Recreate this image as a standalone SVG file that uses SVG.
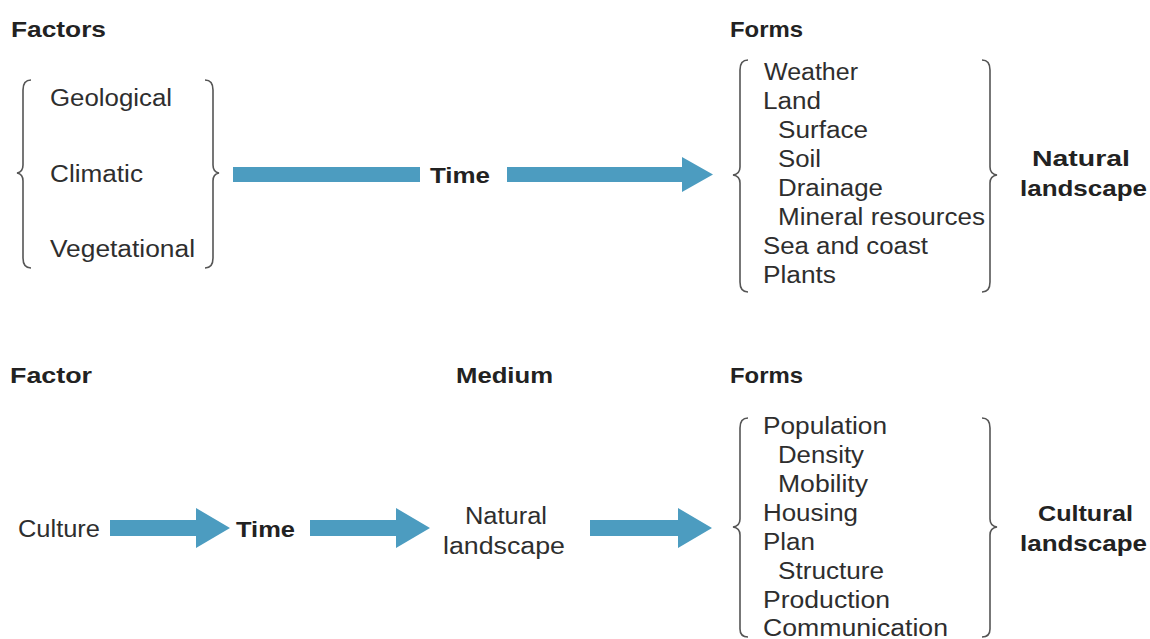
<svg xmlns="http://www.w3.org/2000/svg" width="1150" height="639" viewBox="0 0 1150 639">
<style>
text{font-family:"Liberation Sans",Arial,sans-serif;fill:#2e2e2e;font-size:23px}
.b{font-weight:bold;fill:#222;font-size:22px}
.br{fill:none;stroke:#555;stroke-width:1.6}
.ar{fill:#4c9cc0}
</style>
<rect width="1150" height="639" fill="#fff"/>
<g id="headers">
<text class="b" x="11" y="37" textLength="95" lengthAdjust="spacingAndGlyphs">Factors</text>
<text class="b" x="730" y="37" textLength="73" lengthAdjust="spacingAndGlyphs">Forms</text>
<text class="b" x="10" y="383" textLength="82" lengthAdjust="spacingAndGlyphs">Factor</text>
<text class="b" x="456" y="383" textLength="97" lengthAdjust="spacingAndGlyphs">Medium</text>
<text class="b" x="730" y="383" textLength="73" lengthAdjust="spacingAndGlyphs">Forms</text>
</g>
<g id="factors">
<path class="br" d="M31,80 Q23,80 23,90 L23,165 Q23,172 17,173 Q23,174 23,181 L23,258 Q23,268 31,268"/>
<path class="br" d="M205,80 Q213,80 213,90 L213,165 Q213,172 219,173 Q213,174 213,181 L213,258 Q213,268 205,268"/>
<text x="50" y="106" textLength="122" lengthAdjust="spacingAndGlyphs">Geological</text>
<text x="50" y="182" textLength="93" lengthAdjust="spacingAndGlyphs">Climatic</text>
<text x="50" y="257" textLength="145" lengthAdjust="spacingAndGlyphs">Vegetational</text>
</g>
<g id="time1">
<text class="b" x="430" y="183" textLength="60" lengthAdjust="spacingAndGlyphs">Time</text>
</g>
<g id="natural-forms">
<path class="br" d="M748,60 Q740,60 740,70 L740,167 Q740,174 733,175 Q740,176 740,183 L740,282 Q740,292 748,292"/>
<path class="br" d="M982,60 Q990,60 990,70 L990,167 Q990,174 997,175 Q990,176 990,183 L990,282 Q990,292 982,292"/>
<text x="764" y="80" textLength="94" lengthAdjust="spacingAndGlyphs">Weather</text>
<text x="763" y="109" textLength="58" lengthAdjust="spacingAndGlyphs">Land</text>
<text x="778" y="138" textLength="90" lengthAdjust="spacingAndGlyphs">Surface</text>
<text x="778" y="167" textLength="43" lengthAdjust="spacingAndGlyphs">Soil</text>
<text x="778" y="196" textLength="105" lengthAdjust="spacingAndGlyphs">Drainage</text>
<text x="778" y="225" textLength="207" lengthAdjust="spacingAndGlyphs">Mineral resources</text>
<text x="763" y="254" textLength="165" lengthAdjust="spacingAndGlyphs">Sea and coast</text>
<text x="763" y="283" textLength="73" lengthAdjust="spacingAndGlyphs">Plants</text>
</g>
<g id="natural-landscape">
<text class="b" x="1032" y="166" textLength="98" lengthAdjust="spacingAndGlyphs">Natural</text>
<text class="b" x="1020" y="196" textLength="127" lengthAdjust="spacingAndGlyphs">landscape</text>
</g>
<g id="culture">
<text x="18" y="537" textLength="82" lengthAdjust="spacingAndGlyphs">Culture</text>
</g>
<g id="time2">
<text class="b" x="236" y="537" textLength="59" lengthAdjust="spacingAndGlyphs">Time</text>
</g>
<g id="medium">
<text x="465" y="524" textLength="82" lengthAdjust="spacingAndGlyphs">Natural</text>
<text x="443" y="554" textLength="122" lengthAdjust="spacingAndGlyphs">landscape</text>
</g>
<g id="cultural-forms">
<path class="br" d="M748,418 Q740,418 740,428 L740,519 Q740,526 733,527 Q740,528 740,535 L740,629 Q740,637 748,637"/>
<path class="br" d="M982,418 Q990,418 990,428 L990,519 Q990,526 997,527 Q990,528 990,535 L990,629 Q990,637 982,637"/>
<text x="763" y="434" textLength="124" lengthAdjust="spacingAndGlyphs">Population</text>
<text x="778" y="463" textLength="86" lengthAdjust="spacingAndGlyphs">Density</text>
<text x="778" y="492" textLength="90" lengthAdjust="spacingAndGlyphs">Mobility</text>
<text x="763" y="521" textLength="95" lengthAdjust="spacingAndGlyphs">Housing</text>
<text x="763" y="550" textLength="52" lengthAdjust="spacingAndGlyphs">Plan</text>
<text x="778" y="579" textLength="106" lengthAdjust="spacingAndGlyphs">Structure</text>
<text x="763" y="608" textLength="127" lengthAdjust="spacingAndGlyphs">Production</text>
<text x="763" y="636" textLength="185" lengthAdjust="spacingAndGlyphs">Communication</text>
</g>
<g id="cultural-landscape">
<text class="b" x="1038" y="521" textLength="95" lengthAdjust="spacingAndGlyphs">Cultural</text>
<text class="b" x="1020" y="551" textLength="127" lengthAdjust="spacingAndGlyphs">landscape</text>
</g>
<g id="connectors">
<rect class="ar" x="233" y="167" width="187" height="15"/>
<path class="ar" d="M507,167 L682,167 L682,157 L713,174.5 L682,192 L682,182 L507,182 Z"/>
<path class="ar" d="M110,520 L196,520 L196,508 L230,528 L196,548 L196,536 L110,536 Z"/>
<path class="ar" d="M310,520 L396,520 L396,508 L430,528 L396,548 L396,536 L310,536 Z"/>
<path class="ar" d="M590,520 L678,520 L678,508 L712,528 L678,548 L678,536 L590,536 Z"/>
</g>
</svg>
